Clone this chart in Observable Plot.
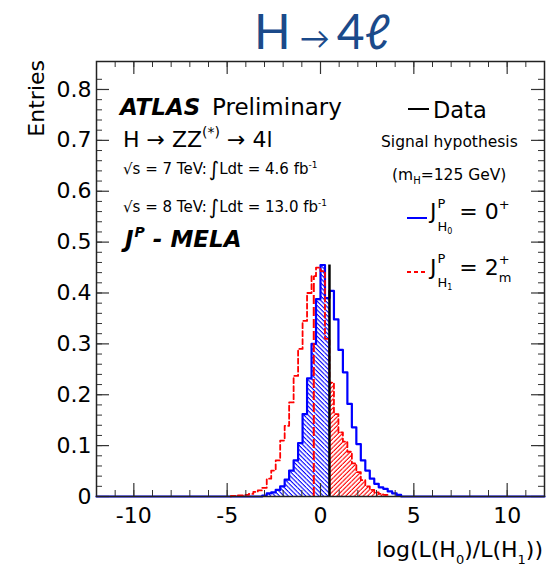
<!DOCTYPE html>
<html>
<head>
<meta charset="utf-8">
<script src="https://cdn.jsdelivr.net/npm/d3@7"></script>
<script src="https://cdn.jsdelivr.net/npm/@observablehq/plot@0.6"></script>
<style>
  html, body { margin: 0; padding: 0; background: #fff; }
  body { width: 547px; height: 571px; overflow: hidden; font-family: "DejaVu Sans", sans-serif; }
  #title { position: relative; height: 60px; width: 547px; }
  #title div { position: absolute; left: 254px; top: 2px; white-space: nowrap;
    font-family: "Lato", "Noto Sans", sans-serif; font-size: 48px; line-height: normal; color: #1b4a8a; }
  #title .arr { font-size: 30px; line-height: 0; margin: 0 7px 0 9px; }
  #chart svg { display: block; }
</style>
</head>
<body>
<div id="title"><div>H<span class="arr">→</span>4ℓ</div></div>
<div id="chart"></div>
<script>
// ---------------- data ----------------
const binWidth = 0.24;
// H0 (J^P = 0+) normalised distribution, first bin left edge and bin contents
const h0FirstEdge = -3.12;
const h0Values = [0.002, 0.006, 0.008, 0.013, 0.020, 0.033, 0.051, 0.071, 0.105, 0.162,
                  0.232, 0.300, 0.388, 0.455, 0.390, 0.404, 0.348, 0.288, 0.244, 0.182,
                  0.136, 0.103, 0.071, 0.051, 0.035, 0.025, 0.018, 0.015, 0.010, 0.006, 0.003];
// H1 (J^P = 2+m) normalised distribution
const h1FirstEdge = -4.8;
const h1Values = [0.001, 0.002, 0.002, 0.003, 0.005, 0.009, 0.012, 0.017, 0.035, 0.051,
                  0.071, 0.110, 0.139, 0.185, 0.237, 0.290, 0.345, 0.400, 0.433, 0.450,
                  0.443, 0.310, 0.224, 0.162, 0.126, 0.108, 0.088, 0.065, 0.048, 0.032,
                  0.020, 0.013, 0.008, 0.005, 0.003];
// observed data value and the height of its marker line
const dataValue = 0.48;
const dataHeight = 0.455;
// red long-dashed marker line of the H1 distribution
const h1MarkerX = -0.36;
const h1MarkerHeight = 0.433;
// axes
const xDomain = [-12, 12];
const yDomain = [0, 0.855];
const xTickLabels = [-10, -5, 0, 5, 10];
const xMinorTicks = d3.range(-12, 13, 1);
const yTickLabels = [0, 0.1, 0.2, 0.3, 0.4, 0.5, 0.6, 0.7, 0.8];
const yMinorTicks = d3.range(0, 42).map(i => i * 0.02);

// ---------------- derived tables ----------------
const toBins = (first, vals) => vals.map((v, i) => ({x1: first + i * binWidth, x2: first + (i + 1) * binWidth, v}));
const h0Bins = toBins(h0FirstEdge, h0Values);
const h1Bins = toBins(h1FirstEdge, h1Values);
const eps = 1e-6;
const h0Hatched = h0Bins.filter(d => d.x2 <= dataValue + eps);
const h1Hatched = h1Bins.filter(d => d.x1 >= dataValue - eps);

function stepPoints(b, padFrom, padTo) {
  const pts = [];
  if (padFrom != null) pts.push({x: padFrom, y: 0});
  pts.push({x: b[0].x1, y: 0});
  b.forEach(d => pts.push({x: d.x1, y: d.v}));
  pts.push({x: b[b.length - 1].x2, y: 0});
  if (padTo != null) pts.push({x: padTo, y: 0});
  return pts;
}
const h0Line = stepPoints(h0Bins, xDomain[0], xDomain[1]);
const h1Line = stepPoints(h1Bins);

// ---------------- layout ----------------
const W = 547, H = 511;
const mL = 96, mR = 3, mT = 1, mB = 75;
const iW = W - mL - mR, iH = H - mT - mB;
const tickCol = "#333";
const majorLen = 13, minorLen = 6;

const plot = Plot.plot({
  width: W, height: H,
  marginLeft: mL, marginRight: mR, marginTop: mT, marginBottom: mB,
  x: {domain: xDomain},
  y: {domain: yDomain},
  style: {fontFamily: "DejaVu Sans, sans-serif", fontSize: "22px", color: "#000", background: "#fff", overflow: "visible"},
  marks: [
    // hatched areas
    Plot.rect(h0Hatched, {x1: "x1", x2: "x2", y1: 0, y2: "v", fill: "url(#hatchBlue)"}),
    Plot.rect(h1Hatched, {x1: "x1", x2: "x2", y1: 0, y2: "v", fill: "url(#hatchRed)"}),
    // outlines
    Plot.line(h0Line, {x: "x", y: "y", curve: "step-after", stroke: "#0000ff", strokeWidth: 2.2}),
    Plot.line(h1Line, {x: "x", y: "y", curve: "step-after", stroke: "#ff0000", strokeWidth: 1.8, strokeDasharray: "5,3"}),
    Plot.ruleX([h1MarkerX], {y1: 0, y2: h1MarkerHeight, stroke: "#ff0000", strokeWidth: 2, strokeDasharray: "9,3"}),
    Plot.ruleX([dataValue], {y1: 0, y2: dataHeight, stroke: "#000", strokeWidth: 2.5}),
    // ticks on all four sides (inside)
    Plot.tickX(xMinorTicks, {x: d => d, stroke: tickCol, strokeWidth: 1, insetTop: iH - minorLen}),
    Plot.tickX(xTickLabels, {x: d => d, stroke: tickCol, strokeWidth: 1.2, insetTop: iH - majorLen}),
    Plot.tickX(xMinorTicks, {x: d => d, stroke: tickCol, strokeWidth: 1, insetBottom: iH - minorLen}),
    Plot.tickX(xTickLabels, {x: d => d, stroke: tickCol, strokeWidth: 1.2, insetBottom: iH - majorLen}),
    Plot.tickY(yMinorTicks, {y: d => d, stroke: tickCol, strokeWidth: 1, insetRight: iW - minorLen}),
    Plot.tickY(yTickLabels, {y: d => d, stroke: tickCol, strokeWidth: 1.2, insetRight: iW - majorLen}),
    Plot.tickY(yMinorTicks, {y: d => d, stroke: tickCol, strokeWidth: 1, insetLeft: iW - minorLen}),
    Plot.tickY(yTickLabels, {y: d => d, stroke: tickCol, strokeWidth: 1.2, insetLeft: iW - majorLen}),
    Plot.frame({stroke: "#222", strokeWidth: 1.5}),
    // tick labels
    Plot.axisX(xTickLabels, {tickSize: 0, tickPadding: 11, label: null, tickFormat: d => String(d), fontSize: 22}),
    Plot.axisY(yTickLabels, {tickSize: 0, tickPadding: 5, label: null, tickFormat: d => d === 0 ? "0" : d.toFixed(1), fontSize: 22})
  ]
});
document.getElementById("chart").appendChild(plot);

const svg = d3.select(plot);
// hatch patterns
const defs = svg.insert("defs", ":first-child");
function hatch(id, color, angle) {
  const p = defs.append("pattern").attr("id", id).attr("patternUnits", "userSpaceOnUse")
    .attr("width", 3.1).attr("height", 10).attr("patternTransform", `rotate(${angle})`);
  p.append("line").attr("x1", 1).attr("y1", -1).attr("x2", 1).attr("y2", 11)
    .attr("stroke", color).attr("stroke-width", 1.1);
}
hatch("hatchBlue", "#0000ff", -45);
hatch("hatchRed", "#ff0000", 45);

// rich text helper (sub/superscripts); all y positions are page y minus the 60px title
const oy = -60;
const ann = svg.append("g").attr("font-family", "DejaVu Sans, sans-serif").attr("fill", "#000")
  .attr("text-anchor", "start");
function rich(x, y, parts, anchorEnd) {
  const g = ann.append("g");
  let cx = x, lastStart = x;
  for (const p of parts) {
    const px = (p.stack ? lastStart : cx) + (p.dx || 0);
    const t = g.append("text").attr("x", px).attr("y", y + oy + (p.dy || 0)).attr("text-anchor", "start")
      .attr("font-size", p.size).style("white-space", "pre").text(p.t);
    if (p.bold) t.attr("font-weight", "bold");
    if (p.italic) t.attr("font-style", "italic");
    const w = t.node().getComputedTextLength();
    if (p.stack) cx = Math.max(cx, px + w); else { lastStart = px; cx = px + w; }
  }
  if (anchorEnd) g.attr("transform", `translate(${x - cx},0)`);
  return g;
}
function sample(x1, x2, y, color, width, dash) {
  const l = ann.append("line").attr("x1", x1).attr("x2", x2).attr("y1", y + oy).attr("y2", y + oy)
    .attr("stroke", color).attr("stroke-width", width);
  if (dash) l.attr("stroke-dasharray", dash);
}

// left annotation block (page coordinates)
rich(120, 115, [{t: "ATLAS", size: 23, bold: true, italic: true}]);
rich(212, 115, [{t: "Preliminary", size: 23}]);
rich(123, 147, [{t: "H → ZZ", size: 22}, {t: "(*)", size: 14, dy: -10}, {t: " → 4l", size: 22}]);
rich(123, 174, [{t: "√s = 7 TeV:", size: 15}, {t: "∫", size: 20, dy: 2, dx: 2}, {t: "Ldt = 4.6 fb", size: 15}, {t: "-1", size: 9, dy: -6}]);
rich(123, 212, [{t: "√s = 8 TeV:", size: 15}, {t: "∫", size: 20, dy: 2, dx: 2}, {t: "Ldt = 13.0 fb", size: 15}, {t: "-1", size: 9, dy: -6}]);
rich(125, 247, [{t: "J", size: 23, bold: true, italic: true}, {t: "P", size: 14, bold: true, italic: true, dy: -10, dx: 1}, {t: " - MELA", size: 23, bold: true, italic: true}]);

// right legend
sample(408, 429, 109, "#000", 2);
rich(433, 118, [{t: "Data", size: 22.5}]);
rich(381, 147, [{t: "Signal hypothesis", size: 15.5}]);
rich(392, 180, [{t: "(m", size: 15.5}, {t: "H", size: 10, dy: 4}, {t: "=125 GeV)", size: 15.5}]);
sample(407, 427, 218, "#0000ff", 2);
rich(430, 219, [{t: "J", size: 22}, {t: "P", size: 13, dy: -11, dx: 1}, {t: "H", size: 13, dy: 12, stack: true}, {t: "0", size: 8, dy: 15},
                {t: " = 0", size: 22}, {t: "+", size: 13, dy: -10}]);
sample(407, 426, 272, "#ff0000", 1.8, "4,3");
rich(430, 275, [{t: "J", size: 22}, {t: "P", size: 13, dy: -12, dx: 1}, {t: "H", size: 13, dy: 12, stack: true}, {t: "1", size: 8, dy: 15},
                {t: " = 2", size: 22}, {t: "+", size: 13, dy: -11}, {t: "m", size: 13, dy: 7, stack: true}]);

// axis titles
rich(543, 557, [{t: "log(L(H", size: 22}, {t: "0", size: 13, dy: 7}, {t: ")/L(H", size: 22}, {t: "1", size: 13, dy: 7}, {t: "))", size: 22}], true);
ann.append("text").attr("transform", `translate(44,${60 + oy}) rotate(-90)`).attr("text-anchor", "end")
  .attr("font-size", 22).text("Entries");
</script>
</body>
</html>
